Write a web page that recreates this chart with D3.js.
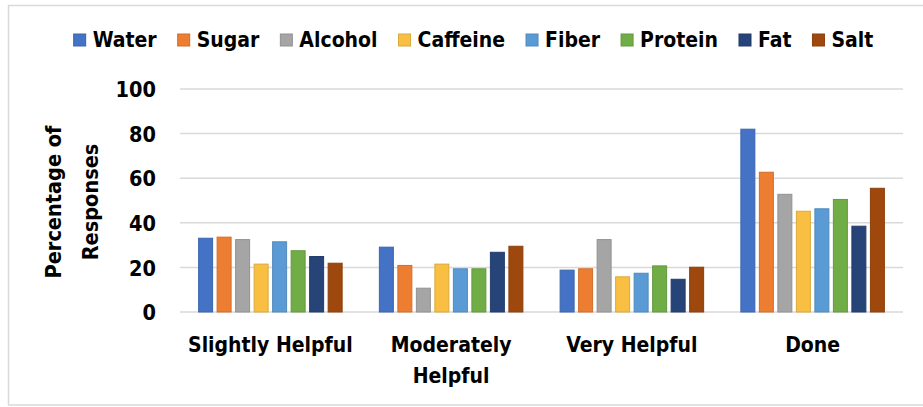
<!DOCTYPE html>
<html><head><meta charset="utf-8">
<script src="https://cdn.jsdelivr.net/npm/d3@7"></script>
<style>
html,body{margin:0;padding:0;background:#fff;}
text{font-family:"DejaVu Sans Condensed","DejaVu Sans",sans-serif;font-weight:bold;font-stretch:condensed;fill:#000;}
</style></head>
<body>
<svg id="chart" width="923" height="407"></svg>
<script>
const categories = ["Slightly Helpful", "Moderately Helpful", "Very Helpful", "Done"];
const categoryLines = [["Slightly Helpful"], ["Moderately", "Helpful"], ["Very Helpful"], ["Done"]];
const seriesNames = ["Water", "Sugar", "Alcohol", "Caffeine", "Fiber", "Protein", "Fat", "Salt"];
const seriesColors = ["#4472C4", "#ED7D31", "#A5A5A5", "#F8BF43", "#5B9BD5", "#70AD47", "#264478", "#9E480E"];
const water    = [33.3, 29.3, 19.0, 82.2];
const sugar    = [33.8, 21.1, 19.6, 62.9];
const alcohol  = [32.7, 10.9, 32.7, 53.0];
const caffeine = [21.7, 21.7, 16.0, 45.4];
const fiber    = [31.7, 19.6, 17.6, 46.5];
const protein  = [27.7, 19.6, 20.9, 50.7];
const fat      = [25.1, 27.0, 14.9, 38.7];
const salt     = [22.1, 29.7, 20.3, 55.7];
const seriesValues = [water, sugar, alcohol, caffeine, fiber, protein, fat, salt];
const yTicks = [0, 20, 40, 60, 80, 100];
const yTitle = ["Percentage of", "Responses"];

const svg = d3.select("#chart");
// frame
svg.append("rect").attr("x", 8.5).attr("y", 5.5).attr("width", 930).attr("height", 399.5)
  .attr("fill", "none").attr("stroke", "#d9d9d9").attr("stroke-width", 1.5);

const pLeft = 180, pRight = 903, pTop = 89, pBottom = 312;
const y = d3.scaleLinear().domain([0, 100]).range([pBottom, pTop]);
const x0 = d3.scaleBand().domain(categories).range([pLeft, pRight]).paddingInner(0.181).paddingOuter(0.0905);
const x1 = d3.scaleBand().domain(seriesNames).range([0, x0.bandwidth()]).padding(0.19).paddingOuter(0.095);
const color = d3.scaleOrdinal().domain(seriesNames).range(seriesColors);

// gridlines
svg.append("g").selectAll("line").data(yTicks).join("line")
  .attr("x1", pLeft).attr("x2", pRight)
  .attr("y1", d => y(d)).attr("y2", d => y(d))
  .attr("stroke", "#d9d9d9").attr("stroke-width", 1.5);

// y axis labels
const yAxis = d3.axisLeft(y).tickValues(yTicks).tickSize(0).tickPadding(0);
const gy = svg.append("g").attr("transform", "translate(156,0)").call(yAxis);
gy.select(".domain").remove();
gy.attr("font-family", null).attr("font-size", null);
gy.selectAll("text").style("font-size", "21.5px").attr("dy", "0.36em");

// bars
const data = categories.map((c, i) => ({cat: c, vals: seriesNames.map((s, j) => ({s, v: seriesValues[j][i]}))}));
const groups = svg.append("g").selectAll("g").data(data).join("g")
  .attr("transform", d => `translate(${x0(d.cat)},0)`);
groups.selectAll("rect").data(d => d.vals).join("rect")
  .attr("x", d => x1(d.s) + 0.5)
  .attr("width", x1.bandwidth() - 1)
  .attr("y", d => y(d.v) + 0.5)
  .attr("height", d => y(0) - y(d.v) - 0.5)
  .attr("fill", d => color(d.s))
  .attr("stroke", d => d3.color(color(d.s)).darker(0.35))
  .attr("stroke-width", 1);

// x labels
const gx = svg.append("g");
categories.forEach((c, i) => {
  const cxp = x0(c) + x0.bandwidth() / 2;
  const t = gx.append("text").attr("text-anchor", "middle").style("font-size", "21px")
    .attr("x", cxp).attr("y", 352);
  categoryLines[i].forEach((ln, k) => {
    t.append("tspan").attr("x", cxp).attr("dy", k === 0 ? 0 : 31).text(ln);
  });
});

// y title
yTitle.forEach((ln, k) => {
  svg.append("text").attr("text-anchor", "middle").style("font-size", "21.5px")
    .attr("transform", `translate(${61 + k * 37},202) rotate(-90)`).text(ln);
});

// legend
const leg = svg.append("g");
const items = [];
seriesNames.forEach((s, i) => {
  const g = leg.append("g");
  g.append("rect").attr("x", 0).attr("y", 34).attr("width", 12).attr("height", 12)
    .attr("fill", color(s)).attr("stroke", d3.color(color(s)).darker(0.35)).attr("stroke-width", 1);
  const t = g.append("text").attr("x", 19).attr("y", 47).style("font-size", "21px").text(s);
  const w = 19 + t.node().getComputedTextLength();
  items.push({g, w});
});
const gap = 21;
const total = d3.sum(items, d => d.w) + gap * (items.length - 1);
let pos = 473.5 - total / 2;
items.forEach(it => { it.g.attr("transform", `translate(${pos},0)`); pos += it.w + gap; });
</script>
</body></html>
